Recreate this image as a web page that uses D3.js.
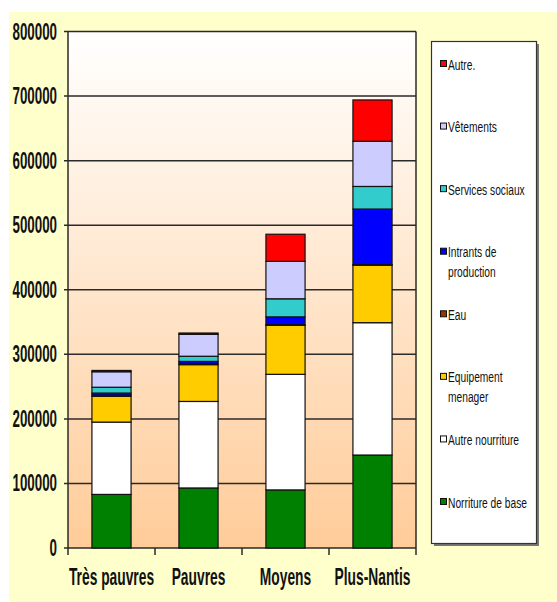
<!DOCTYPE html>
<html>
<head>
<meta charset="utf-8">
<script src="https://cdn.jsdelivr.net/npm/d3@7"></script>
<style>
  body { margin: 0; background: #fff; }
  svg { display: block; }
  text { font-family: "Liberation Sans", Arial, sans-serif; fill: #111; }
</style>
</head>
<body>
<svg id="chart" width="557" height="602"></svg>
<script>
// categories along the x axis
var categories = ['Très pauvres', 'Pauvres', 'Moyens', 'Plus-Nantis'];

// series, bottom to top of the stack
var seriesNames = ['Norriture de base', 'Autre nourriture', 'Equipement menager', 'Eau',
                   'Intrants de production', 'Services sociaux', 'Vêtements', 'Autre.'];
var seriesColors = ['#008000', '#ffffff', '#ffcc00', '#993300',
                    '#0000ff', '#33cccc', '#ccccff', '#ff0000'];

// values
var norritureBase   = [83000, 93000, 90000, 144000];
var autreNourriture = [112000, 134000, 179000, 205000];
var equipement      = [40000, 57000, 76000, 89000];
var eau             = [2000, 2000, 1000, 1000];
var intrants        = [3000, 3000, 12000, 86000];
var servicesSociaux = [9000, 8000, 28000, 35000];
var vetements       = [24000, 34000, 58000, 70000];
var autre           = [2000, 2000, 42000, 64000];

var yTicks = [0, 100000, 200000, 300000, 400000, 500000, 600000, 700000, 800000];

// legend labels, top to bottom (broken into lines like the original)
var legendLabels = [['Autre.'], ['Vêtements'], ['Services sociaux'], ['Intrants de', 'production'],
                    ['Eau'], ['Equipement', 'menager'], ['Autre nourriture'], ['Norriture de base']];

var seriesValues = [norritureBase, autreNourriture, equipement, eau,
                    intrants, servicesSociaux, vetements, autre];

var table = categories.map(function(c, i) {
    var row = {cat: c};
    seriesNames.forEach(function(s, j) { row[s] = seriesValues[j][i]; });
    return row;
});

var svg = d3.select('#chart');

var margin = {left: 68, right: 416, top: 31.5, bottom: 548};

// outer pale yellow panel
svg.append('rect')
    .attr('x', 9).attr('y', 12)
    .attr('width', 548).attr('height', 590)
    .attr('fill', '#ffffcc');

var defs = svg.append('defs');
var grad = defs.append('linearGradient')
    .attr('id', 'plotbg')
    .attr('x1', 0).attr('y1', 0).attr('x2', 0).attr('y2', 1);
grad.append('stop').attr('offset', '0%').attr('stop-color', '#ffffff');
grad.append('stop').attr('offset', '100%').attr('stop-color', '#ffcc99');

var x = d3.scaleBand()
    .domain(categories)
    .range([margin.left, margin.right])
    .paddingInner(0.55)
    .paddingOuter(0.275);

var y = d3.scaleLinear()
    .domain([0, 800000])
    .range([margin.bottom, margin.top]);

svg.append('rect')
    .attr('x', margin.left).attr('y', margin.top)
    .attr('width', margin.right - margin.left)
    .attr('height', margin.bottom - margin.top)
    .attr('fill', 'url(#plotbg)');

// gridlines (extend a little left as tick marks)
svg.append('g')
    .selectAll('line')
    .data(yTicks)
    .enter().append('line')
    .attr('x1', margin.left - 4)
    .attr('x2', margin.right)
    .attr('y1', function(d) { return y(d); })
    .attr('y2', function(d) { return y(d); })
    .attr('stroke', '#2a2a2a')
    .attr('stroke-width', 1.5);

// left and right borders
svg.append('line')
    .attr('x1', margin.left).attr('x2', margin.left)
    .attr('y1', margin.top).attr('y2', margin.bottom)
    .attr('stroke', '#2a2a2a').attr('stroke-width', 1.5);
svg.append('line')
    .attr('x1', margin.right).attr('x2', margin.right)
    .attr('y1', margin.top).attr('y2', margin.bottom)
    .attr('stroke', '#2a2a2a').attr('stroke-width', 1.5);

// x ticks at band boundaries
var boundaries = categories.map(function(c) { return x(c) - x.step() * 0.275; });
boundaries.push(margin.right);
svg.append('g')
    .selectAll('line')
    .data(boundaries)
    .enter().append('line')
    .attr('x1', function(d) { return d; })
    .attr('x2', function(d) { return d; })
    .attr('y1', margin.bottom)
    .attr('y2', margin.bottom + 7)
    .attr('stroke', '#2a2a2a')
    .attr('stroke-width', 1.5);

// stacked bars
var stack = d3.stack().keys(seriesNames);
var layers = stack(table);

svg.append('g')
    .selectAll('g')
    .data(layers)
    .enter().append('g')
    .attr('fill', function(d, i) { return seriesColors[i]; })
    .selectAll('rect')
    .data(function(d) { return d; })
    .enter().append('rect')
    .attr('x', function(d) { return x(d.data.cat); })
    .attr('width', x.bandwidth())
    .attr('y', function(d) { return y(d[1]); })
    .attr('height', function(d) { return y(d[0]) - y(d[1]); })
    .attr('stroke', '#111')
    .attr('stroke-width', 1.2);

// squeezed text helper (the original fonts are very narrow)
function squeezed(parent, tx, ty, str, size, sx, anchor, weight) {
    return parent.append('text')
        .attr('transform', 'translate(' + tx + ',' + ty + ') scale(' + sx + ',1)')
        .attr('text-anchor', anchor)
        .style('font-size', size + 'px')
        .style('font-weight', weight)
        .text(str);
}

// y labels
yTicks.forEach(function(t) {
    squeezed(svg, 57, y(t) + 8, String(t), 23, 0.58, 'end', 'bold');
});

// x labels
categories.forEach(function(c) {
    squeezed(svg, x(c) + x.bandwidth() / 2, 585, c, 23, 0.6, 'middle', 'bold');
});

// legend
var legend = svg.append('g');
legend.append('rect')
    .attr('x', 434).attr('y', 44)
    .attr('width', 105).attr('height', 502)
    .attr('fill', '#777');
legend.append('rect')
    .attr('x', 431.5).attr('y', 41.5)
    .attr('width', 105).attr('height', 502)
    .attr('fill', '#fff')
    .attr('stroke', '#333')
    .attr('stroke-width', 1.2);

var legendY = d3.scaleLinear().domain([0, 7]).range([64, 502]);

legendLabels.forEach(function(lines, i) {
    var cy = legendY(i);
    legend.append('rect')
        .attr('x', 440.5).attr('y', cy - 3.5)
        .attr('width', 6).attr('height', 6)
        .attr('fill', seriesColors[seriesColors.length - 1 - i])
        .attr('stroke', '#111')
        .attr('stroke-width', 1);
    lines.forEach(function(l, k) {
        squeezed(legend, 448, cy + 5.5 + k * 20, l, 15.5, 0.66, 'start', 'normal');
    });
});
</script>
</body>
</html>
